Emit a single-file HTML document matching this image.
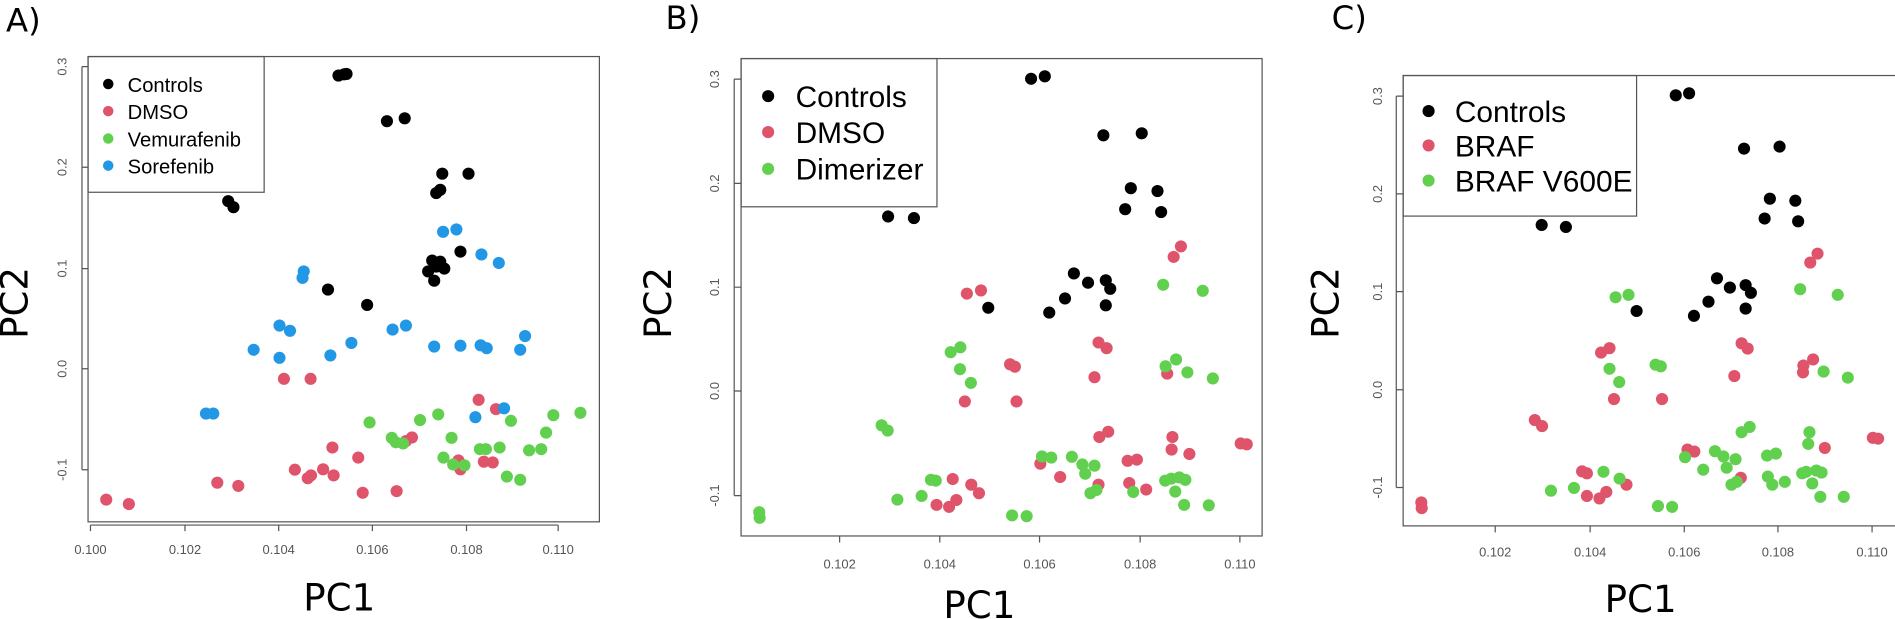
<!DOCTYPE html>
<html><head><meta charset="utf-8"><style>
html,body{margin:0;padding:0;background:#fff;}
svg{display:block;font-family:"Liberation Sans",sans-serif;}
.k{fill:#000}.r{fill:#DF536B}.g{fill:#61D04F}.b{fill:#2297E6}
.t{fill:#555;font-size:32px;}
.ax{stroke:#555;stroke-width:3;fill:none}
.big{font-family:"DejaVu Sans","Liberation Sans",sans-serif;}
</style></head><body>
<svg width="1895" height="619" viewBox="0 0 1895 619" xmlns="http://www.w3.org/2000/svg">
<!-- Panel A -->
<g transform="translate(0,0) scale(0.4039)">
<text x="15" y="78" font-size="80" class="big">A)</text>
<rect x="218" y="140" width="1266" height="1152" class="ax"/>
<rect x="218" y="140" width="436" height="336" class="ax"/>
<circle cx="268" cy="208" r="13" class="k"/><text x="316" y="228" font-size="50">Controls</text>
<circle cx="268" cy="275" r="13" class="r"/><text x="316" y="295" font-size="50">DMSO</text>
<circle cx="268" cy="343" r="13" class="g"/><text x="316" y="363" font-size="50">Vemurafenib</text>
<circle cx="268" cy="410" r="13" class="b"/><text x="316" y="430" font-size="50">Sorefenib</text>
<path class="ax" d="M203 165V1163M203 165H218M203 414H218M203 665H218M203 913H218M203 1163H218"/>
<g class="t" text-anchor="middle">
<text transform="translate(165,165) rotate(-90)">0.3</text>
<text transform="translate(165,414) rotate(-90)">0.2</text>
<text transform="translate(165,665) rotate(-90)">0.1</text>
<text transform="translate(165,913) rotate(-90)">0.0</text>
<text transform="translate(165,1163) rotate(-90)">-0.1</text>
<text x="224" y="1372">0.100</text><text x="458" y="1372">0.102</text><text x="690" y="1372">0.104</text><text x="922" y="1372">0.106</text><text x="1155" y="1372">0.108</text><text x="1382" y="1372">0.110</text>
</g>
<path class="ax" d="M224 1300H1382M224 1300V1315M458 1300V1315M690 1300V1315M922 1300V1315M1155 1300V1315M1382 1300V1315"/>
<text x="840" y="1512" font-size="92" text-anchor="middle" class="big">PC1</text>
<text transform="translate(68,750) rotate(-90)" font-size="92" text-anchor="middle" class="big">PC2</text>
<g class="k"><circle cx="838" cy="187" r="15"/><circle cx="852" cy="184" r="15"/><circle cx="858" cy="183" r="15"/><circle cx="958" cy="300" r="15"/><circle cx="1002" cy="293" r="15"/><circle cx="1095" cy="430" r="15"/><circle cx="1160" cy="430" r="15"/><circle cx="1080" cy="478" r="15"/><circle cx="1090" cy="470" r="15"/><circle cx="565" cy="498" r="15"/><circle cx="578" cy="513" r="15"/><circle cx="1140" cy="623" r="15"/><circle cx="1070" cy="645" r="15"/><circle cx="1090" cy="648" r="15"/><circle cx="1060" cy="672" r="15"/><circle cx="1080" cy="660" r="15"/><circle cx="1100" cy="665" r="15"/><circle cx="1075" cy="695" r="15"/><circle cx="812" cy="717" r="15"/><circle cx="909" cy="755" r="15"/></g>
<g class="b"><circle cx="1097" cy="574" r="15"/><circle cx="1130" cy="568" r="15"/><circle cx="1192" cy="630" r="15"/><circle cx="1235" cy="651" r="15"/><circle cx="752" cy="672" r="15"/><circle cx="749" cy="688" r="15"/><circle cx="692" cy="806" r="15"/><circle cx="718" cy="819" r="15"/><circle cx="972" cy="816" r="15"/><circle cx="1005" cy="806" r="15"/><circle cx="628" cy="866" r="15"/><circle cx="692" cy="886" r="15"/><circle cx="818" cy="880" r="15"/><circle cx="870" cy="849" r="15"/><circle cx="1075" cy="858" r="15"/><circle cx="1140" cy="856" r="15"/><circle cx="1190" cy="855" r="15"/><circle cx="1205" cy="862" r="15"/><circle cx="1300" cy="832" r="15"/><circle cx="1288" cy="866" r="15"/><circle cx="510" cy="1024" r="15"/><circle cx="528" cy="1024" r="15"/><circle cx="1177" cy="1033" r="15"/></g>
<g class="r"><circle cx="703" cy="938" r="15"/><circle cx="769" cy="938" r="15"/><circle cx="1185" cy="990" r="15"/><circle cx="1228" cy="1013" r="15"/><circle cx="1020" cy="1083" r="15"/><circle cx="1005" cy="1092" r="15"/><circle cx="823" cy="1108" r="15"/><circle cx="887" cy="1133" r="15"/><circle cx="730" cy="1163" r="15"/><circle cx="762" cy="1184" r="15"/><circle cx="770" cy="1177" r="15"/><circle cx="800" cy="1162" r="15"/><circle cx="826" cy="1177" r="15"/><circle cx="898" cy="1220" r="15"/><circle cx="982" cy="1216" r="15"/><circle cx="538" cy="1195" r="15"/><circle cx="590" cy="1203" r="15"/><circle cx="263" cy="1237" r="15"/><circle cx="319" cy="1248" r="15"/><circle cx="1135" cy="1140" r="15"/><circle cx="1140" cy="1162" r="15"/><circle cx="1198" cy="1143" r="15"/><circle cx="1220" cy="1145" r="15"/></g>
<g class="b"><circle cx="1248" cy="1011" r="15"/></g>
<g class="g"><circle cx="915" cy="1046" r="15"/><circle cx="1040" cy="1040" r="15"/><circle cx="1085" cy="1026" r="15"/><circle cx="1265" cy="1042" r="15"/><circle cx="1370" cy="1028" r="15"/><circle cx="1437" cy="1022" r="15"/><circle cx="970" cy="1084" r="15"/><circle cx="980" cy="1095" r="15"/><circle cx="998" cy="1098" r="15"/><circle cx="1118" cy="1084" r="15"/><circle cx="1188" cy="1112" r="15"/><circle cx="1203" cy="1112" r="15"/><circle cx="1237" cy="1108" r="15"/><circle cx="1310" cy="1115" r="15"/><circle cx="1340" cy="1112" r="15"/><circle cx="1352" cy="1071" r="15"/><circle cx="1098" cy="1133" r="15"/><circle cx="1122" cy="1150" r="15"/><circle cx="1150" cy="1152" r="15"/><circle cx="1255" cy="1180" r="15"/><circle cx="1288" cy="1188" r="15"/></g>
</g>

<!-- Panel B -->
<g transform="translate(630,0) scale(0.4039)">
<text x="88" y="72" font-size="80" class="big">B)</text>
<rect x="275" y="145" width="1290" height="1182" class="ax"/>
<rect x="275" y="145" width="485" height="367" class="ax"/>
<circle cx="342" cy="238" r="15" class="k"/><text x="410" y="265" font-size="74">Controls</text>
<circle cx="342" cy="327" r="15" class="r"/><text x="410" y="354" font-size="74">DMSO</text>
<circle cx="342" cy="418" r="15" class="g"/><text x="410" y="445" font-size="74">Dimerizer</text>
<path class="ax" d="M258 196V1227M258 196H275M258 454H275M258 711H275M258 968H275M258 1227H275"/>
<g class="t" text-anchor="middle">
<text transform="translate(220,196) rotate(-90)">0.3</text>
<text transform="translate(220,454) rotate(-90)">0.2</text>
<text transform="translate(220,711) rotate(-90)">0.1</text>
<text transform="translate(220,968) rotate(-90)">0.0</text>
<text transform="translate(220,1227) rotate(-90)">-0.1</text>
<text x="519" y="1408">0.102</text><text x="767" y="1408">0.104</text><text x="1014" y="1408">0.106</text><text x="1263" y="1408">0.108</text><text x="1510" y="1408">0.110</text>
</g>
<path class="ax" d="M519 1327V1343M767 1327V1343M1014 1327V1343M1263 1327V1343M1510 1327V1343"/>
<text x="865" y="1530" font-size="92" text-anchor="middle" class="big">PC1</text>
<text transform="translate(102,750) rotate(-90)" font-size="92" text-anchor="middle" class="big">PC2</text>
<g class="k"><circle cx="993" cy="195" r="15"/><circle cx="1027" cy="189" r="15"/><circle cx="1172" cy="335" r="15"/><circle cx="1267" cy="330" r="15"/><circle cx="1240" cy="466" r="15"/><circle cx="1306" cy="473" r="15"/><circle cx="1226" cy="518" r="15"/><circle cx="1315" cy="525" r="15"/><circle cx="639" cy="536" r="15"/><circle cx="703" cy="540" r="15"/><circle cx="1099" cy="677" r="15"/><circle cx="1134" cy="700" r="15"/><circle cx="1178" cy="694" r="15"/><circle cx="1189" cy="715" r="15"/><circle cx="1178" cy="756" r="15"/><circle cx="1077" cy="739" r="15"/><circle cx="1038" cy="774" r="15"/><circle cx="887" cy="762" r="15"/></g>
<g class="r"><circle cx="1364" cy="610" r="15"/><circle cx="1346" cy="636" r="15"/><circle cx="834" cy="727" r="15"/><circle cx="869" cy="719" r="15"/><circle cx="1160" cy="848" r="15"/><circle cx="1180" cy="862" r="15"/><circle cx="941" cy="902" r="15"/><circle cx="953" cy="908" r="15"/><circle cx="1150" cy="934" r="15"/><circle cx="1330" cy="925" r="15"/><circle cx="829" cy="994" r="15"/><circle cx="957" cy="994" r="15"/><circle cx="1162" cy="1082" r="15"/><circle cx="1184" cy="1069" r="15"/><circle cx="1343" cy="1082" r="15"/><circle cx="1341" cy="1113" r="15"/><circle cx="1385" cy="1124" r="15"/><circle cx="1512" cy="1098" r="15"/><circle cx="1527" cy="1100" r="15"/><circle cx="1232" cy="1141" r="15"/><circle cx="1255" cy="1138" r="15"/><circle cx="1016" cy="1148" r="15"/><circle cx="1065" cy="1181" r="15"/><circle cx="799" cy="1186" r="15"/><circle cx="845" cy="1200" r="15"/><circle cx="864" cy="1221" r="15"/><circle cx="759" cy="1250" r="15"/><circle cx="790" cy="1255" r="15"/><circle cx="808" cy="1238" r="15"/><circle cx="1160" cy="1200" r="15"/><circle cx="1236" cy="1196" r="15"/><circle cx="1278" cy="1212" r="15"/></g>
<g class="g"><circle cx="1320" cy="705" r="15"/><circle cx="1418" cy="720" r="15"/><circle cx="794" cy="872" r="15"/><circle cx="818" cy="860" r="15"/><circle cx="817" cy="914" r="15"/><circle cx="844" cy="948" r="15"/><circle cx="1326" cy="907" r="15"/><circle cx="1352" cy="890" r="15"/><circle cx="1380" cy="922" r="15"/><circle cx="1443" cy="937" r="15"/><circle cx="623" cy="1053" r="15"/><circle cx="638" cy="1066" r="15"/><circle cx="1020" cy="1130" r="15"/><circle cx="1043" cy="1133" r="15"/><circle cx="1094" cy="1131" r="15"/><circle cx="1120" cy="1150" r="15"/><circle cx="1150" cy="1153" r="15"/><circle cx="1127" cy="1173" r="15"/><circle cx="745" cy="1188" r="15"/><circle cx="757" cy="1190" r="15"/><circle cx="662" cy="1237" r="15"/><circle cx="722" cy="1228" r="15"/><circle cx="1140" cy="1221" r="15"/><circle cx="1155" cy="1213" r="15"/><circle cx="1246" cy="1218" r="15"/><circle cx="1325" cy="1190" r="15"/><circle cx="1340" cy="1185" r="15"/><circle cx="1360" cy="1182" r="15"/><circle cx="1375" cy="1188" r="15"/><circle cx="1350" cy="1217" r="15"/><circle cx="1372" cy="1250" r="15"/><circle cx="1433" cy="1251" r="15"/><circle cx="946" cy="1276" r="15"/><circle cx="982" cy="1278" r="15"/><circle cx="320" cy="1268" r="15"/><circle cx="321" cy="1282" r="15"/></g>
</g>

<!-- Panel C -->
<g transform="translate(1265,0) scale(0.4039)">
<text x="165" y="72" font-size="80" class="big">C)</text>
<rect x="342" y="187" width="1220" height="1115" class="ax"/>
<rect x="342" y="187" width="578" height="348" class="ax"/>
<circle cx="405" cy="275" r="15" class="k"/><text x="470" y="302" font-size="74">Controls</text>
<circle cx="405" cy="360" r="15" class="r"/><text x="470" y="387" font-size="74">BRAF</text>
<circle cx="405" cy="447" r="15" class="g"/><text x="470" y="474" font-size="74">BRAF V600E</text>
<path class="ax" d="M325 238V1207M325 238H342M325 480H342M325 722H342M325 965H342M325 1207H342"/>
<g class="t" text-anchor="middle">
<text transform="translate(290,238) rotate(-90)">0.3</text>
<text transform="translate(290,480) rotate(-90)">0.2</text>
<text transform="translate(290,722) rotate(-90)">0.1</text>
<text transform="translate(290,965) rotate(-90)">0.0</text>
<text transform="translate(290,1207) rotate(-90)">-0.1</text>
<text x="570" y="1378">0.102</text><text x="805" y="1378">0.104</text><text x="1038" y="1378">0.106</text><text x="1270" y="1378">0.108</text><text x="1503" y="1378">0.110</text>
</g>
<path class="ax" d="M570 1302V1318M805 1302V1318M1038 1302V1318M1270 1302V1318M1503 1302V1318"/>
<text x="930" y="1515" font-size="92" text-anchor="middle" class="big">PC1</text>
<text transform="translate(182,750) rotate(-90)" font-size="92" text-anchor="middle" class="big">PC2</text>
<g class="k"><circle cx="1017" cy="236" r="15"/><circle cx="1050" cy="231" r="15"/><circle cx="1186" cy="368" r="15"/><circle cx="1274" cy="363" r="15"/><circle cx="1250" cy="492" r="15"/><circle cx="1313" cy="497" r="15"/><circle cx="1237" cy="541" r="15"/><circle cx="1320" cy="548" r="15"/><circle cx="685" cy="557" r="15"/><circle cx="745" cy="562" r="15"/><circle cx="1119" cy="689" r="15"/><circle cx="1151" cy="712" r="15"/><circle cx="1190" cy="706" r="15"/><circle cx="1203" cy="725" r="15"/><circle cx="1190" cy="764" r="15"/><circle cx="1098" cy="747" r="15"/><circle cx="1062" cy="782" r="15"/><circle cx="920" cy="770" r="15"/></g>
<g class="r"><circle cx="1368" cy="628" r="15"/><circle cx="1350" cy="650" r="15"/><circle cx="832" cy="873" r="15"/><circle cx="853" cy="862" r="15"/><circle cx="1180" cy="850" r="15"/><circle cx="1195" cy="863" r="15"/><circle cx="1162" cy="931" r="15"/><circle cx="1333" cy="905" r="15"/><circle cx="1332" cy="922" r="15"/><circle cx="1357" cy="890" r="15"/><circle cx="864" cy="988" r="15"/><circle cx="983" cy="988" r="15"/><circle cx="668" cy="1040" r="15"/><circle cx="686" cy="1055" r="15"/><circle cx="1046" cy="1113" r="15"/><circle cx="1063" cy="1118" r="15"/><circle cx="1386" cy="1109" r="15"/><circle cx="1505" cy="1084" r="15"/><circle cx="1518" cy="1086" r="15"/><circle cx="785" cy="1167" r="15"/><circle cx="797" cy="1172" r="15"/><circle cx="797" cy="1228" r="15"/><circle cx="828" cy="1234" r="15"/><circle cx="845" cy="1218" r="15"/><circle cx="895" cy="1200" r="15"/><circle cx="1178" cy="1183" r="15"/><circle cx="387" cy="1244" r="15"/><circle cx="388" cy="1258" r="15"/></g>
<g class="g"><circle cx="868" cy="736" r="15"/><circle cx="900" cy="730" r="15"/><circle cx="1325" cy="716" r="15"/><circle cx="1418" cy="730" r="15"/><circle cx="853" cy="913" r="15"/><circle cx="877" cy="946" r="15"/><circle cx="967" cy="903" r="15"/><circle cx="980" cy="907" r="15"/><circle cx="1383" cy="920" r="15"/><circle cx="1443" cy="935" r="15"/><circle cx="1180" cy="1070" r="15"/><circle cx="1200" cy="1057" r="15"/><circle cx="1348" cy="1070" r="15"/><circle cx="1345" cy="1099" r="15"/><circle cx="1114" cy="1117" r="15"/><circle cx="1135" cy="1130" r="15"/><circle cx="1165" cy="1137" r="15"/><circle cx="1143" cy="1158" r="15"/><circle cx="1040" cy="1132" r="15"/><circle cx="1085" cy="1163" r="15"/><circle cx="838" cy="1168" r="15"/><circle cx="878" cy="1185" r="15"/><circle cx="708" cy="1215" r="15"/><circle cx="765" cy="1208" r="15"/><circle cx="1243" cy="1128" r="15"/><circle cx="1265" cy="1123" r="15"/><circle cx="1245" cy="1180" r="15"/><circle cx="1256" cy="1200" r="15"/><circle cx="1287" cy="1193" r="15"/><circle cx="1330" cy="1172" r="15"/><circle cx="1340" cy="1168" r="15"/><circle cx="1365" cy="1165" r="15"/><circle cx="1378" cy="1170" r="15"/><circle cx="1355" cy="1197" r="15"/><circle cx="1375" cy="1230" r="15"/><circle cx="1433" cy="1230" r="15"/><circle cx="1155" cy="1200" r="15"/><circle cx="1168" cy="1193" r="15"/><circle cx="973" cy="1253" r="15"/><circle cx="1008" cy="1255" r="15"/></g>
</g>
</svg>
</body></html>
